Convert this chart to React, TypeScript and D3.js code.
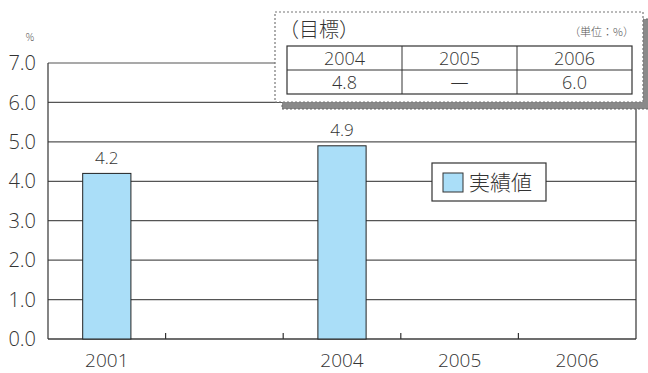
import React from "react";
import * as d3 from "d3";

const categories = ["2001", "", "2004", "2005", "2006"];
const actualValues: (number | null)[] = [4.2, null, 4.9, null, null];
const yTicks = [0, 1, 2, 3, 4, 5, 6, 7];
const targetYears = ["2004", "2005", "2006"];
const targetValues = ["4.8", "—", "6.0"];

const W = 648, H = 373;
const M = { left: 48, right: 636, top: 63, bottom: 339 };
const NUM = "'Open Sans', 'Noto Sans', sans-serif";
const JP = "'Noto Sans CJK JP', 'Noto Sans', sans-serif";
const TXT = "#333";

export default function App() {
  const x = d3.scaleBand().domain(categories.map((c, i) => String(i))).range([M.left, M.right]).paddingInner(0).paddingOuter(0);
  const y = d3.scaleLinear().domain([0, 7]).range([M.bottom, M.top]);
  const bw = x.bandwidth() * 0.41;

  const tb = { x: 275, y: 12, w: 368, h: 90 };
  const tx0 = 287, tx1 = 632, ty0 = 46, ty1 = 70, ty2 = 94;
  const colX = d3.scaleBand().domain(targetYears).range([tx0, tx1]);

  return (
    <svg width={W} height={H} style={{ position: "absolute", left: 0, top: 0, background: "#fff" }} fontFamily={NUM} fontWeight={300}>
      {yTicks.map((t) => (
        <line key={t} x1={M.left} x2={M.right} y1={y(t)} y2={y(t)} stroke="#555" strokeWidth={1.2} />
      ))}
      <line x1={M.left} x2={M.left} y1={M.top} y2={M.bottom} stroke="#333" strokeWidth={1.2} />
      <line x1={M.right} x2={M.right} y1={M.top} y2={M.bottom} stroke="#333" strokeWidth={1.2} />
      <line x1={M.left} x2={M.right} y1={M.bottom} y2={M.bottom} stroke="#333" strokeWidth={1.2} />
      {categories.slice(1).map((c, i) => {
        const bx = x(String(i + 1))!;
        return <line key={i} x1={bx} x2={bx} y1={M.bottom} y2={M.bottom - 6} stroke="#333" strokeWidth={1.2} />;
      })}
      {yTicks.map((t) => (
        <text key={t} x={36} y={y(t)} dy="0.36em" textAnchor="end" fontSize={20} fill={TXT}>{t.toFixed(1)}</text>
      ))}
      <text x={30} y={41} textAnchor="middle" fontSize={11} fill="#555">%</text>
      {actualValues.map((v, i) => {
        if (v == null) return null;
        const cx = x(String(i))! + x.bandwidth() / 2;
        return (
          <g key={i}>
            <rect x={cx - bw / 2} y={y(v)} width={bw} height={y(0) - y(v)} fill="#aadef8" stroke="#222" strokeWidth={1} />
            <text x={cx} y={y(v) - 16} dy="0.36em" textAnchor="middle" fontSize={17} fill={TXT}>{v.toFixed(1)}</text>
          </g>
        );
      })}
      {categories.map((c, i) => (
        <text key={i} x={x(String(i))! + x.bandwidth() / 2} y={367} textAnchor="middle" fontSize={19} fill={TXT}>{c}</text>
      ))}
      <rect x={432} y={163} width={114} height={38} fill="#fff" stroke="#333" strokeWidth={1.2} />
      <rect x={443} y={173} width={20} height={19} fill="#aadef8" stroke="#333" strokeWidth={1} />
      <text x={469} y={182} dy="0.36em" fontSize={21} fill={TXT} fontFamily={JP}>実績値</text>
      <rect x={tb.x + 7} y={tb.y + 7} width={tb.w} height={tb.h} fill="#8a8a8a" stroke="#666" strokeWidth={1} strokeDasharray="2,2" />
      <rect x={tb.x} y={tb.y} width={tb.w} height={tb.h} fill="#fff" stroke="#777" strokeWidth={1.2} strokeDasharray="2,2" />
      <text x={279} y={30} dy="0.36em" fontSize={20} fill={TXT} fontFamily={JP}>（目標）</text>
      <text x={634} y={32} dy="0.36em" textAnchor="end" fontSize={11} fill="#555" fontFamily={JP}>（単位：%）</text>
      <rect x={tx0} y={ty0} width={tx1 - tx0} height={ty2 - ty0} fill="none" stroke="#333" strokeWidth={1.2} />
      <line x1={tx0} x2={tx1} y1={ty1} y2={ty1} stroke="#333" strokeWidth={1} />
      {targetYears.slice(1).map((yr) => (
        <line key={yr} x1={colX(yr)} x2={colX(yr)} y1={ty0} y2={ty2} stroke="#333" strokeWidth={1} />
      ))}
      {targetYears.map((yr, i) => (
        <g key={yr}>
          <text x={colX(yr)! + colX.bandwidth() / 2} y={(ty0 + ty1) / 2 + 1} dy="0.36em" textAnchor="middle" fontSize={18} fill={TXT}>{yr}</text>
          <text x={colX(yr)! + colX.bandwidth() / 2} y={(ty1 + ty2) / 2 + 1} dy="0.36em" textAnchor="middle" fontSize={18} fill={TXT}>{targetValues[i]}</text>
        </g>
      ))}
    </svg>
  );
}
